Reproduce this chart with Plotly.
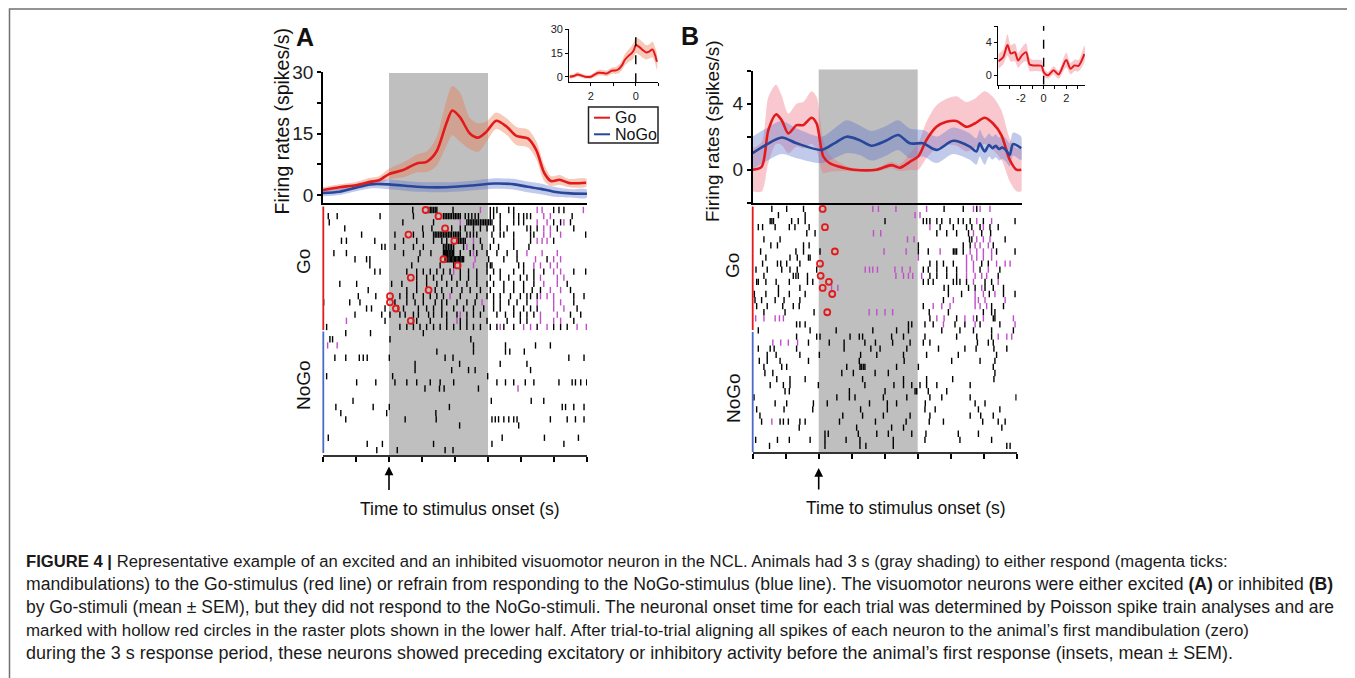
import plotly.graph_objects as go

W, H = 1355, 678
OFF = 8  # page body margin of the browser

# ---------------- Panel A : PSTH (mean, SEM) ----------------
A_t_go = [-2.0, -1.5, -1.0, -0.57, -0.3, 0.0, 0.43, 0.84, 1.14, 1.44, 1.74, 1.92, 2.15, 2.45, 2.7,
          2.95, 3.25, 3.56, 3.86, 4.21, 4.46, 4.71, 4.91, 5.17, 5.47, 5.97]
A_go = [1.2, 1.9, 2.4, 3.2, 3.6, 5.1, 6.1, 7.7, 8.1, 10.6, 17.5, 20.6, 19.0, 15.0, 14.0,
        15.4, 18.1, 16.7, 14.4, 13.8, 11.0, 5.3, 3.4, 3.7, 2.9, 3.0]
A_go_sem = [0.7, 0.7, 0.8, 1.0, 1.0, 1.3, 1.8, 2.2, 2.5, 3.5, 5.5, 6.0, 6.0, 3.8, 3.5,
            2.5, 2.0, 2.0, 2.2, 2.2, 2.2, 2.0, 1.2, 1.2, 1.0, 1.0]
A_t_nogo = [-2.0, -1.5, -1.0, -0.57, 0.0, 0.84, 1.74, 2.5, 3.2, 3.8, 4.2, 4.6, 5.0, 5.5, 6.0]
A_nogo = [0.5, 0.8, 1.8, 2.6, 2.6, 2.0, 1.9, 2.3, 2.8, 2.6, 2.0, 1.5, 0.8, 0.4, 0.3]
A_nogo_sem = [0.8, 0.8, 0.9, 1.0, 1.2, 1.2, 1.2, 1.2, 1.3, 1.3, 1.3, 1.3, 1.2, 1.0, 1.0]

# inset A (time to first mandibulation, reversed axis)
A_in_t = [2.94, 2.75, 2.59, 2.42, 2.25, 2.0, 1.85, 1.66, 1.45, 1.29, 1.07, 0.9, 0.78, 0.6, 0.49,
          0.3, 0.19, 0.08, 0.0, -0.18, -0.3, -0.47, -0.6, -0.74, -0.85, -0.94]
A_in = [0.0, 0.5, 1.5, 0.8, 0.0, 0.0, 1.2, 2.5, 2.4, 2.1, 3.8, 4.0, 4.6, 7.5, 10.6,
        13.5, 14.8, 17.0, 20.0, 18.6, 17.0, 15.4, 16.0, 17.3, 14.0, 9.5]
A_in_sem = [1.2, 1.3, 1.5, 1.3, 1.2, 1.2, 1.5, 1.8, 1.8, 1.8, 2.0, 2.2, 2.5, 3.0, 3.5,
            4.0, 4.5, 5.0, 5.0, 5.0, 5.0, 4.5, 4.5, 5.0, 5.0, 5.0]

# ---------------- Panel B : PSTH ----------------
B_t_go = [-2.0, -1.73, -1.53, -1.3, -1.13, -0.93, -0.68, -0.48, -0.23, -0.08, 0.12, 0.32, 0.72, 1.02,
          1.72, 2.17, 2.42, 2.72, 2.97, 3.22, 3.52, 3.82, 4.12, 4.42, 4.67, 4.97, 5.22, 5.47, 5.72,
          5.92, 6.07]
B_go = [0.0, 0.18, 2.4, 3.35, 3.0, 2.2, 2.7, 2.7, 3.15, 2.8, 0.8, 0.38, 0.12, 0.0,
        0.0, 0.28, 0.12, 0.48, 0.8, 1.8, 2.6, 2.9, 2.95, 2.6, 2.8, 3.15, 2.8, 2.1, 0.6,
        0.0, 0.0]
B_go_sem = [1.3, 1.5, 2.0, 1.8, 1.5, 1.2, 1.3, 1.4, 1.6, 1.6, 1.0, 0.5, 0.2, 0.1,
            0.1, 0.2, 0.2, 0.5, 0.8, 1.1, 1.3, 1.4, 1.5, 1.5, 1.5, 1.6, 1.6, 1.5, 1.3,
            1.3, 1.3]
B_t_nogo = [-2.0, -1.6, -1.13, -0.68, 0.07, 0.45, 0.82, 1.2, 1.57, 2.0, 2.37, 2.72, 3.12, 3.52,
            4.02, 4.52, 4.72, 4.82, 4.9, 4.97, 5.1, 5.2, 5.3, 5.4, 5.5, 5.6, 5.72, 5.82, 6.07]
B_nogo = [1.0, 1.5, 1.95, 1.6, 1.2, 1.6, 2.0, 1.8, 1.45, 1.75, 2.1, 1.6, 1.6, 1.2,
          1.75, 1.4, 1.1, 1.6, 1.3, 1.1, 1.5, 1.3, 1.45, 1.25, 1.35, 1.2, 0.9, 1.55, 1.3]
B_nogo_sem = [1.0, 1.0, 1.0, 0.9, 0.8, 0.9, 1.0, 0.9, 0.9, 0.9, 0.9, 0.9, 0.8, 0.8,
              0.8, 0.8, 0.8, 0.8, 0.8, 0.8, 0.7, 0.7, 0.7, 0.7, 0.7, 0.7, 0.7, 0.7, 0.7]

B_in_t = [-4.0, -3.57, -3.19, -2.9, -2.54, -2.25, -1.9, -1.55, -1.23, -0.94, -0.56, -0.2, 0.03, 0.38,
          0.88, 1.32, 1.99, 2.37, 2.72, 3.07, 3.6]
B_in = [1.7, 2.2, 3.7, 2.65, 2.8, 1.8, 2.45, 2.8, 1.3, 1.2, 1.2, 1.15, 0.33, 0.0,
        0.6, 0.08, 1.85, 0.8, 1.2, 1.15, 2.6]
B_in_sem = [0.9, 0.9, 1.3, 1.0, 1.1, 0.9, 1.0, 1.1, 0.8, 0.7, 0.7, 0.7, 0.5, 0.4,
            0.5, 0.5, 0.9, 0.7, 0.7, 0.7, 1.0]

# ---------------- Rasters (spike times in s, one list per trial) ----------------
A_go_spikes = [
    [0.72, 1.20, 1.25, 1.30, 1.35, 1.40, 1.45, 1.94, 3.07, 3.17, 3.27, 3.63, 3.78, 4.99, 5.15, 5.30],
    [-1.84, -1.57, -0.27, 0.74, 1.65, 1.70, 1.75, 1.80, 1.85, 1.90, 1.96, 2.01, 2.06, 2.11, 2.16, 2.31, 2.41,
     2.51, 2.61, 2.71, 3.07, 3.17, 3.37, 3.78, 3.93, 4.08, 4.18, 4.29, 5.55],
    [-1.81, 0.42, 1.35, 2.36, 2.41, 2.46, 2.51, 2.56, 2.61, 2.66, 2.71, 2.77, 2.82, 2.87, 2.92, 2.97, 3.02,
     3.07, 3.12, 3.37, 3.78, 3.93, 4.08, 4.99, 5.20, 5.50],
    [-1.34, 1.02, 1.30, 1.90, 2.16, 2.31, 2.56, 2.77, 2.97, 3.17, 3.37, 3.58, 4.18, 4.29, 4.49, 5.10, 5.60],
    [-0.83, 0.18, 0.74, 1.04, 1.35, 1.40, 1.45, 1.50, 1.55, 1.60, 1.65, 1.70, 1.75, 1.80, 1.85, 1.90, 1.96,
     2.01, 2.06, 2.11, 2.16, 2.36, 2.46, 2.56, 2.66, 3.12, 3.37, 3.48, 3.78, 4.29, 4.39, 5.96],
    [-1.44, -1.29, -0.43, 0.44, 0.84, 1.35, 1.60, 1.75, 2.06, 2.11, 2.16, 2.21, 2.26, 2.31, 2.77, 3.17, 3.78,
     4.29, 4.99],
    [-0.22, -0.12, 0.18, 0.74, 1.04, 1.65, 1.70, 1.75, 1.80, 1.85, 1.90, 1.96, 2.26, 2.56, 2.82, 3.07, 3.32,
     3.78, 4.24],
    [-1.67, -1.29, 0.44, 0.94, 1.27, 1.65, 1.68, 1.72, 1.75, 1.78, 1.82, 1.85, 1.88, 1.92, 1.96, 2.16, 2.46,
     2.66, 2.97, 3.27, 3.58, 3.88],
    [-1.03, -0.68, -0.58, 0.89, 1.70, 1.74, 1.78, 1.82, 1.86, 1.90, 1.94, 1.98, 2.02, 2.06, 2.10, 2.14, 2.18,
     2.22, 2.26, 3.02, 3.48, 3.88, 4.79],
    [-0.58, 0.69, 1.55, 1.96, 2.16, 2.97, 3.07, 3.12, 3.93, 4.08],
    [-0.43, -0.27, 0.54, 0.84, 1.04, 1.25, 1.45, 1.65, 1.85, 2.16, 2.41, 2.66, 2.97, 3.17, 3.37, 3.78, 4.08,
     4.39, 4.69, 5.60, 5.96],
    [0.84, 1.14, 1.35, 1.60, 1.90, 2.16, 2.41, 2.66, 3.07, 3.37, 3.63, 3.98, 4.18, 4.39],
    [-1.49, -0.98, 0.08, 0.39, 0.84, 1.14, 1.45, 1.75, 2.06, 2.36, 2.66, 2.97, 3.17, 3.48, 3.78, 4.08, 4.39,
     5.40],
    [-0.63, 0.54, 0.84, 1.40, 1.60, 1.90, 2.21, 2.46, 2.77, 3.07, 3.48, 3.78, 4.08, 4.34, 4.59, 5.50],
    [-0.93, -0.40, 0.33, 0.54, 0.74, 1.04, 1.25, 1.45, 1.65, 2.16, 2.66, 2.97, 3.17, 3.37, 3.68, 3.98, 4.18,
     4.29, 4.49, 5.60, 5.91],
    [-1.98, -1.19, -0.88, 0.18, 0.54, 0.79, 1.04, 1.40, 1.60, 1.75, 2.06, 2.36, 2.61, 3.17, 3.37, 3.63, 3.88,
     4.18, 5.60],
    [-0.68, -0.53, -0.12, 0.28, 0.44, 0.89, 1.14, 1.35, 1.60, 1.96, 2.26, 2.56, 2.87, 3.17, 3.37, 3.78, 4.08,
     4.29, 4.49, 5.70],
    [-1.03, -0.22, 0.03, 0.33, 0.49, 0.74, 0.89, 1.20, 1.35, 1.60, 1.75, 2.06, 2.36, 2.56, 2.77, 3.27, 3.53,
     3.78, 3.98, 4.18, 4.39, 5.50, 5.81],
    [-0.12, 0.74, 0.84, 1.25, 1.75, 2.16, 2.36, 2.97, 3.58, 3.98, 4.18, 5.60],
    [-1.89, 0.33, 0.54, 0.74, 0.94, 1.14, 1.35, 1.55, 1.75, 1.96, 2.16, 2.36, 2.56, 2.77, 3.07, 3.27, 3.48,
     3.78, 4.49, 4.99, 5.20, 5.40],
]
A_go_licks = [
    [2.77, 4.49, 4.64, 5.89], [4.69, 4.89], [2.16, 4.49, 4.79, 5.30], [4.69, 4.89], [4.69, 4.89, 5.20],
    [2.56, 4.49, 4.64, 4.79], [2.36], [2.56, 4.18, 4.64, 5.10], [2.61, 4.44, 4.99, 5.20],
    [2.56, 4.39, 4.59, 4.89, 5.10], [1.96, 4.99, 5.20], [4.59, 5.10, 5.30], [4.69, 5.10], [4.89, 5.20],
    [1.85, 4.59, 4.79, 4.99], [2.82, 4.49, 4.99, 5.20], [4.99, 5.30], [2.16, 4.59, 5.10],
    [-1.29, 2.06, 4.59, 4.99, 5.20], [3.37, 4.08, 4.29, 4.79, 5.70, 5.98],
]
A_go_onset = [1.11, 1.50, None, 1.70, 0.59, 1.98, None, None, 1.65, 2.08,
              None, 0.66, None, 1.20, 0.03, 0.03, 0.21, None, 0.66, None]
A_nogo_spikes = [
    [-1.31, -0.56, 1.04], [-1.79, -1.71, 0.03, 2.48], [2.56, 3.53, 4.44, 4.89],
    [1.45, 2.56, 3.53, 3.66, 4.10], [-1.64, -1.31, -0.90, -0.78, -0.66, 0.01, 1.70, 1.94, 5.45, 5.91],
    [0.79, 2.14, 3.37, 4.18], [0.79, 1.90, 2.41, 2.61, 4.29], [-1.89, 0.11, 2.99],
    [-0.98, -0.40, 0.18, 0.54, 0.84, 1.25, 1.55, 1.96, 3.27, 3.53, 3.78, 4.13, 4.39, 5.15, 5.55, 5.65, 5.81, 5.99],
    [1.09, 1.53, 1.67, 2.71], [], [-1.09, 3.10, 4.31, 4.69],
    [-1.61, -0.48, 0.01, 1.83, 5.25, 5.35, 5.60, 5.91], [-1.46, -0.07, 1.42],
    [-1.31, 0.49, 1.43, 3.12, 3.22, 3.32, 3.48, 3.63, 3.78, 3.88, 4.89, 5.40, 5.65, 5.91],
    [2.14, 3.93], [], [-1.84, 3.43, 4.71, 5.74], [-0.66, -0.20, 1.35, 3.12, 5.30], [-0.37, 0.25, 1.70, 1.94],
]
A_nogo_licks = [[], [], [-1.86, -1.57], [], [], [], [], [], [], [3.91],
                [], [], [], [], [], [], [], [], [], []]

B_go_spikes = [
    [-1.42, -0.97, -0.46, 3.80, 4.38, 4.79],
    [-1.22, -0.41],
    [-1.47, -1.42, -1.37, -0.82, -0.62, -0.41, 2.01, 3.17, 3.27, 3.37, 3.58, 3.73, 3.98, 4.23, 4.38, 4.59, 4.99, 5.95],
    [-1.83, -1.70, -1.32, -0.89, -0.72, -0.29, 3.68, 4.08, 4.48, 4.64, 4.89, 5.19, 5.44],
    [-0.36, -0.11, 3.58, 3.88, 4.18, 4.54, 4.94, 5.21],
    [-1.66, -1.17, 4.57, 4.64, 5.65],
    [-1.45, -1.25, -0.46, -0.29, 3.02, 4.38, 4.59, 5.29],
    [-1.76, -0.69, -0.46, 0.04, 3.02, 3.32, 4.08, 4.13, 4.18, 4.38, 5.39, 5.95],
    [-1.60, -0.87, -0.65, -0.31, -0.26],
    [-1.70, -1.25, -1.15, -0.97, -0.57, 3.37, 3.58, 3.78, 4.08, 4.94, 5.14],
    [-1.90, -1.56, -1.12, -0.87, -0.65, -0.06, 3.17, 3.32, 3.58, 3.88, 4.18, 4.89, 5.49],
    [-1.66, -0.77, -0.69, -0.62, -0.34, 3.37, 3.58, 3.88, 4.18, 5.44],
    [-1.88, -1.83, -1.60, -1.29, -0.89, -0.34, -0.18, 3.17, 3.32, 3.47, 4.08, 4.18, 4.28, 4.48, 5.04, 5.24],
    [-1.22, -0.57, 3.80, 3.93, 4.54, 4.74, 5.04, 5.29, 5.60],
    [-1.95, -1.60, -1.22, -0.89, -0.41, 3.93, 4.33, 5.17, 5.60, 5.95],
    [-1.93, -1.73, -1.32, -1.05, -0.57, 3.78],
    [-1.88, -1.56, -1.09, -0.77, -0.59, 3.17, 5.24, 5.60],
    [-1.66, -1.02, -0.14, 3.35, 3.93, 4.99, 5.24, 5.34],
    [3.37, 4.18, 4.79, 5.29, 5.34],
    [-0.67, -0.57, -0.41, 2.72, 2.82, 3.22, 3.47, 4.13, 4.43, 4.89, 5.49],
]
B_go_licks = [
    [1.64, 1.81, 2.34, 3.27, 4.69, 4.89, 5.19], [2.92, 3.07], [4.79, 5.24], [3.37, 4.99], [1.66, 1.88, 4.69],
    [2.69, 2.89, 4.79, 4.99, 5.19], [4.74, 4.89, 5.14], [1.98, 2.65, 3.68, 4.59, 4.79, 4.99, 5.24],
    [3.02, 4.48, 4.64, 4.79, 4.99, 5.24], [4.48, 4.69, 5.39, 5.65, 5.80],
    [1.41, 1.54, 1.64, 1.78, 2.31, 2.53, 2.77, 4.48, 4.69, 5.14],
    [2.34, 2.57, 2.72, 2.85, 3.12, 4.48, 4.74, 4.94, 5.09], [4.69, 5.44], [0.39, 0.58, 4.94],
    [4.74, 4.99, 5.34], [4.08, 4.74, 4.84, 5.04, 5.65], [3.47, 3.73, 3.98, 4.74, 4.89, 5.09],
    [1.53, 1.76, 2.01, 2.24], [-1.91, -1.66, -1.32, -1.19, -1.07, 3.58, 3.80, 4.43, 4.69, 4.99, 5.90],
    [3.78, 4.74, 5.95],
]
B_go_onset = [0.12, None, None, 0.19, None, None, None, 0.49, None, 0.04,
              None, 0.06, 0.31, 0.12, 0.41, None, None, 0.26, None, None]
B_nogo_spikes = [
    [-1.83, -0.26, 0.53, 1.64, 2.36, 2.72, 3.73, 4.28, 4.69, 5.24, 5.90],
    [-0.67, -0.06, 0.04, 0.95, 1.23, 1.33, 2.21, 2.57, 3.22, 4.18, 4.79, 5.24],
    [-0.31, 0.32, 0.77, 1.40, 1.72, 2.24, 2.77, 3.17, 3.37, 4.81, 5.14, 5.29],
    [-1.83, -1.47, -1.35, -0.67, 0.77, 1.58, 1.86, 2.67, 3.63, 4.43, 4.77, 5.31, 5.70],
    [-1.56, -1.29, -0.57, 0.02, 1.27, 1.76, 2.57, 3.27, 4.23, 5.39],
    [-1.80, -1.56, -1.17, -0.31, 1.23, 2.59, 4.03, 4.89, 5.34],
    [-1.66, -1.12, -0.97, 0.85, 1.25, 1.29, 1.35, 1.40, 2.36, 3.02, 5.29],
    [-1.63, -1.39, 0.70, 1.05, 1.71, 2.11, 5.34],
    [-1.27, -0.87, -0.41, 1.33, 2.57, 3.27, 4.06, 5.31],
    [-1.47, -1.07, -0.87, -0.01, 1.40, 2.28, 2.57, 2.82, 3.07, 3.27, 3.58, 4.59],
    [-1.02, -0.89, 0.93, 2.01, 2.92, 2.97, 3.32, 3.88],
    [-1.96, 0.55, 0.93, 1.10, 1.96, 2.67, 3.37, 3.73, 4.59, 5.98],
    [-1.32, -0.97, -0.16, 0.26, 1.54, 2.08, 2.36, 3.23, 4.74, 5.04],
    [-1.88, -1.05, -0.18, 1.27, 2.08, 3.22, 3.53, 4.84, 5.49],
    [-1.78, 0.73, 1.33, 1.96, 2.77, 3.37, 4.59, 4.91, 5.29],
    [-1.73, -1.17, -1.07, -0.92, -0.57, -0.41, 0.63, 1.72, 2.65, 3.35, 3.78, 4.97, 5.44, 5.65],
    [-0.59, 1.15, 2.21, 2.57, 5.55],
    [0.19, 0.29, 1.20, 1.76, 2.11, 2.82, 3.25, 4.23, 4.84],
    [-1.91, -1.25, -0.89, -0.26, 0.19, 0.83, 1.25, 2.26, 3.22, 4.28, 5.24],
    [-1.49, 0.19, 1.25, 1.43, 2.26, 5.70, 5.80],
]
B_nogo_licks = [[], [5.44, 5.70, 5.85], [-1.39, -1.15, -0.92, -0.64], [], [], [], [], [], [], [],
                [], [], [], [], [], [-1.42], [], [], [], []]

A_yticks = [0, 7.5, 15, 22.5, 30]
A_yticklabels = ["0", "", "15", "", "30"]
B_yticks = [-2, 0, 2, 4, 6]
B_yticklabels = ["", "0", "", "4", ""]
A_in_yticks = [0, 15, 30]
A_in_xticks = [3, 2, 1, 0, -1]
A_in_xticklabels = ["", "2", "", "0", ""]
B_in_yticks = [0, 2, 4, 6]
B_in_yticklabels = ["0", "", "4", ""]
B_in_xticks = [-4, -3, -2, -1, 0, 1, 2, 3]
B_in_xticklabels = ["", "", "-2", "", "0", "", "2", ""]
raster_ticks = [-2, -1, 0, 1, 2, 3, 4, 5, 6]

# ---------------- colours ----------------
RED = "#e31a1c"
BLUE = "#27479b"
A_RED_BAND = "rgba(236,120,80,0.40)"
B_RED_BAND = "rgba(240,110,125,0.38)"
BLUE_BAND = "rgba(95,115,205,0.38)"
MAGENTA = "#c04ec8"
GRAY = "#bfbfbf"
FONT = "Liberation Sans, Arial, sans-serif"


def fx(p):
    return (p - OFF) / W


def fy(p):
    return 1 - (p - OFF) / H


fig = go.Figure()


def band(t, m, s, color, xa, ya):
    up = [a + b for a, b in zip(m, s)]
    lo = [a - b for a, b in zip(m, s)]
    fig.add_trace(go.Scatter(x=list(t) + list(t)[::-1], y=up + lo[::-1], fill="toself",
                             fillcolor=color, line=dict(width=0, shape="spline", smoothing=0.8),
                             mode="lines", hoverinfo="skip", xaxis=xa, yaxis=ya, showlegend=False))


def curve(t, m, color, xa, ya, w=2.6):
    fig.add_trace(go.Scatter(x=t, y=m, mode="lines", line=dict(color=color, width=w, shape="spline", smoothing=0.8),
                             xaxis=xa, yaxis=ya, showlegend=False))


def raster(go_sp, go_lk, go_on, ng_sp, ng_lk, xa, ya):
    rows_sp = go_sp + ng_sp
    rows_lk = go_lk + ng_lk
    xs = [t for i, r in enumerate(rows_sp) for t in r]
    ys = [i + 1 for i, r in enumerate(rows_sp) for t in r]
    fig.add_trace(go.Scatter(x=xs, y=ys, mode="markers", xaxis=xa, yaxis=ya, showlegend=False,
                             marker=dict(symbol="line-ns", size=4.5, color="black",
                                         line=dict(width=1.4, color="black"))))
    xs = [t for i, r in enumerate(rows_lk) for t in r]
    ys = [i + 1 for i, r in enumerate(rows_lk) for t in r]
    fig.add_trace(go.Scatter(x=xs, y=ys, mode="markers", xaxis=xa, yaxis=ya, showlegend=False,
                             marker=dict(symbol="line-ns", size=4.5, color=MAGENTA,
                                         line=dict(width=1.4, color=MAGENTA))))
    xs = [t for t in go_on if t is not None]
    ys = [i + 1 for i, t in enumerate(go_on) if t is not None]
    fig.add_trace(go.Scatter(x=xs, y=ys, mode="markers", xaxis=xa, yaxis=ya, showlegend=False,
                             marker=dict(symbol="circle-open", size=6, color=RED,
                                         line=dict(width=1.8, color=RED))))


# Panel A
band(A_t_go, A_go, A_go_sem, A_RED_BAND, "x", "y")
band(A_t_nogo, A_nogo, A_nogo_sem, BLUE_BAND, "x", "y")
curve(A_t_nogo, A_nogo, BLUE, "x", "y")
curve(A_t_go, A_go, RED, "x", "y")
raster(A_go_spikes, A_go_licks, A_go_onset, A_nogo_spikes, A_nogo_licks, "x2", "y2")
band(A_in_t, A_in, A_in_sem, A_RED_BAND, "x3", "y3")
curve(A_in_t, A_in, RED, "x3", "y3", w=2)

# Panel B
band(B_t_go, B_go, B_go_sem, B_RED_BAND, "x4", "y4")
band(B_t_nogo, B_nogo, B_nogo_sem, BLUE_BAND, "x4", "y4")
curve(B_t_go, B_go, RED, "x4", "y4")
curve(B_t_nogo, B_nogo, BLUE, "x4", "y4")
raster(B_go_spikes, B_go_licks, B_go_onset, B_nogo_spikes, B_nogo_licks, "x5", "y5")
band(B_in_t, B_in, B_in_sem, B_RED_BAND, "x6", "y6")
curve(B_in_t, B_in, RED, "x6", "y6", w=2)

AX = dict(showgrid=False, zeroline=False, linecolor="black", linewidth=1.5, tickcolor="black",
          tickwidth=1.5, automargin=False, tickfont=dict(family=FONT, size=19, color="#222"))
INX = dict(showgrid=False, zeroline=False, linecolor="black", linewidth=1.3, tickcolor="black",
           tickwidth=1.2, ticklen=3, automargin=False, tickfont=dict(family=FONT, size=11, color="#222"))

layout = dict(
    width=W, height=H, autosize=False,
    margin=dict(l=0, r=0, t=0, b=0, pad=0, autoexpand=False),
    paper_bgcolor="white", plot_bgcolor="rgba(0,0,0,0)", showlegend=False,
    # A top
    xaxis=dict(AX, domain=[fx(323), fx(587)], range=[-2, 6], showline=True, showticklabels=False,
               ticks="", anchor="y"),
    yaxis=dict(AX, domain=[fy(203), fy(72)], range=[-1.95, 30], showline=True, ticks="outside",
               ticklen=4, tickvals=A_yticks, ticktext=A_yticklabels, anchor="x"),
    # A raster
    xaxis2=dict(AX, domain=[fx(323), fx(587)], range=[-2, 6], showline=True, linecolor="#333",
                showticklabels=False, ticks="outside", ticklen=5, tickvals=raster_ticks, anchor="y2"),
    yaxis2=dict(AX, domain=[fy(455), fy(206)], range=[40.8, 0.35], showline=False, showticklabels=False,
                ticks="", anchor="x2"),
    # A inset
    xaxis3=dict(INX, domain=[fx(569.3), fx(658.3)], range=[2.95, -1.0], showline=True, ticks="outside",
                tickvals=A_in_xticks, ticktext=A_in_xticklabels, anchor="y3"),
    yaxis3=dict(INX, domain=[fy(82.3), fy(29.3)], range=[-3.5, 30], showline=True, ticks="outside",
                tickvals=A_in_yticks, anchor="x3"),
    # B top
    xaxis4=dict(AX, domain=[fx(752.7), fx(1021.7)], range=[-2, 6.08], showline=True, showticklabels=False,
                ticks="", anchor="y4"),
    yaxis4=dict(AX, domain=[fy(202.7), fy(70.7)], range=[-2, 6], showline=True, ticks="outside",
                ticklen=4, tickvals=B_yticks, ticktext=B_yticklabels, anchor="x4"),
    # B raster
    xaxis5=dict(AX, domain=[fx(752.7), fx(1016.7)], range=[-2, 6], showline=True, linecolor="#333",
                showticklabels=False, ticks="outside", ticklen=5, tickvals=raster_ticks, anchor="y5"),
    yaxis5=dict(AX, domain=[fy(452), fy(205)], range=[41.0, 0.35], showline=False, showticklabels=False,
                ticks="", anchor="x5"),
    # B inset
    xaxis6=dict(INX, domain=[fx(998.3), fx(1085)], range=[-4, 3.65], showline=True, ticks="outside",
                tickvals=B_in_xticks, ticktext=B_in_xticklabels, anchor="y6"),
    yaxis6=dict(INX, domain=[fy(84.7), fy(26)], range=[-1.15, 6], showline=True, ticks="outside",
                tickvals=B_in_yticks, ticktext=B_in_yticklabels, anchor="x6"),
)
fig.update_layout(**layout)

shapes = [
    # outer frame of figure
    dict(type="rect", xref="paper", yref="paper", x0=fx(9.5), x1=fx(1354), y0=-0.05, y1=fy(9),
         line=dict(color="#707070", width=1.5), fillcolor="rgba(0,0,0,0)", layer="below"),
    # gray response periods
    dict(type="rect", xref="x2", yref="paper", x0=0, x1=3, y0=fy(455), y1=fy(73),
         fillcolor=GRAY, line=dict(width=0), layer="below"),
    dict(type="rect", xref="x5", yref="paper", x0=0, x1=3, y0=fy(452), y1=fy(69.5),
         fillcolor=GRAY, line=dict(width=0), layer="below"),
    # Go / NoGo trial bars
    dict(type="line", xref="paper", yref="paper", x0=fx(323.3), x1=fx(323.3), y0=fy(330), y1=fy(206.5),
         line=dict(color=RED, width=1.8)),
    dict(type="line", xref="paper", yref="paper", x0=fx(323.3), x1=fx(323.3), y0=fy(453), y1=fy(331.5),
         line=dict(color="#4a6cc4", width=1.8)),
    dict(type="line", xref="paper", yref="paper", x0=fx(752.7), x1=fx(752.7), y0=fy(330), y1=fy(206.5),
         line=dict(color=RED, width=1.8)),
    dict(type="line", xref="paper", yref="paper", x0=fx(752.7), x1=fx(752.7), y0=fy(452), y1=fy(332),
         line=dict(color="#4a6cc4", width=1.8)),
    # inset dashed zero lines
    dict(type="line", xref="x3", yref="y3", x0=0, x1=0, y0=-3.5, y1=30,
         line=dict(color="black", width=1.4, dash="dash")),
    dict(type="line", xref="x6", yref="y6", x0=0, x1=0, y0=-1.15, y1=6,
         line=dict(color="black", width=1.4, dash="dash")),
    # legend box (panel A)
    dict(type="rect", xref="paper", yref="paper", x0=fx(588.5), x1=fx(658), y0=fy(143), y1=fy(107),
         line=dict(color="#222", width=1.5), fillcolor="white"),
    dict(type="line", xref="paper", yref="paper", x0=fx(594), x1=fx(610), y0=fy(117.7), y1=fy(117.7),
         line=dict(color=RED, width=2)),
    dict(type="line", xref="paper", yref="paper", x0=fx(594), x1=fx(610), y0=fy(134.3), y1=fy(134.3),
         line=dict(color=BLUE, width=2)),
]

ann = []


def text(x, y, s, size, angle=0, anchor="center", bold=False, color="#111"):
    ann.append(dict(xref="paper", yref="paper", x=fx(x), y=fy(y), text=(f"<b>{s}</b>" if bold else s),
                    showarrow=False, textangle=angle, xanchor=anchor, yanchor="middle",
                    font=dict(family=FONT, size=size, color=color)))


text(305, 37, "A", 25, bold=True)
text(690, 36, "B", 25, bold=True)
text(281.5, 122, "Firing rates (spikes/s)", 19.5, angle=-90)
text(713, 131, "Firing rates (spikes/s)", 19, angle=-90)
text(303, 262, "Go", 19, angle=-90)
text(303, 385, "NoGo", 19, angle=-90)
text(733, 266, "Go", 19, angle=-90)
text(733, 398, "NoGo", 19, angle=-90)
text(460, 509, "Time to stimulus onset (s)", 17.5)
text(906, 508, "Time to stimulus onset (s)", 17.5)
text(613, 118, "Go", 16, anchor="left")
text(613, 134.5, "NoGo", 16, anchor="left")

# stimulus-onset arrows
ann.append(dict(xref="x2", yref="paper", x=0, y=fy(466.5), ax=0, ay=25, text="", showarrow=True,
                arrowhead=2, arrowsize=1.1, arrowwidth=1.6, arrowcolor="black"))
ann.append(dict(xref="x5", yref="paper", x=0, y=fy(468), ax=0, ay=23, text="", showarrow=True,
                arrowhead=2, arrowsize=1.1, arrowwidth=1.6, arrowcolor="black"))

caption = [
    "<b>FIGURE 4 |</b> Representative example of an excited and an inhibited visuomotor neuron in the NCL. "
    "Animals had 3 s (gray shading) to either respond (magenta ticks:",
    "mandibulations) to the Go-stimulus (red line) or refrain from responding to the NoGo-stimulus (blue line). "
    "The visuomotor neurons were either excited <b>(A)</b> or inhibited <b>(B)</b>",
    "by Go-stimuli (mean ± SEM), but they did not respond to the NoGo-stimuli. The neuronal onset time for each "
    "trial was determined by Poisson spike train analyses and are",
    "marked with hollow red circles in the raster plots shown in the lower half. After trial-to-trial aligning "
    "all spikes of each neuron to the animal’s first mandibulation (zero)",
    "during the 3 s response period, these neurons showed preceding excitatory or inhibitory activity before "
    "the animal’s first response (insets, mean ± SEM).",
]
cap_y = [561, 584, 607, 630, 653]
cap_size = [16.65, 17.6, 17.45, 16.9, 17.95]
for s, yy, sz in zip(caption, cap_y, cap_size):
    text(24, yy, s, sz, anchor="left", color="#1a1a1a")

fig.update_layout(shapes=shapes, annotations=ann)
fig.write_html("out.html")
